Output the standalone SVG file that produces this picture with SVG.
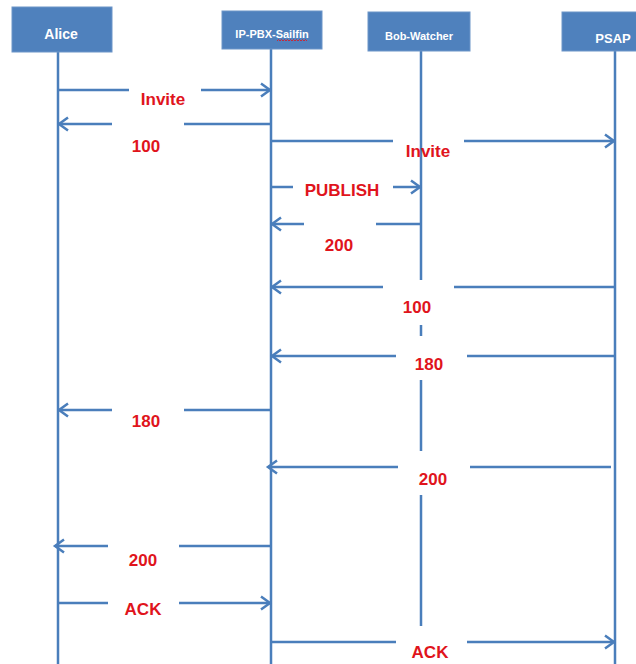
<svg xmlns="http://www.w3.org/2000/svg" width="636" height="664" viewBox="0 0 636 664">
<style>
.box{fill:#4f81bd;stroke:#6d95c8;stroke-width:1}
.hd{font-family:"Liberation Sans",Arial,sans-serif;font-weight:bold;fill:#ffffff;text-anchor:middle}
.life{stroke:#4a7ebb;stroke-width:2.5;fill:none}
.msg{stroke:#4a7ebb;stroke-width:2.5;fill:none}
.arr{marker-end:url(#ah)}
.lbl{font-family:"Liberation Sans",Arial,sans-serif;font-weight:bold;font-size:17px;fill:#e0141c;text-anchor:middle}
</style>
<defs>
<marker id="ah" markerUnits="userSpaceOnUse" markerWidth="20" markerHeight="20" refX="0" refY="0" viewBox="-12 -10 14 20" orient="auto" overflow="visible">
<path d="M-9,-6.5 L0,0 L-9,6.5" fill="none" stroke="#4a7ebb" stroke-width="2.5"/>
</marker>
</defs>
<rect width="636" height="664" fill="#ffffff"/>

<g id="lifelines">
<line class="life" x1="58" y1="52" x2="58" y2="664"/>
<line class="life" x1="271" y1="49" x2="271" y2="664"/>
<line class="life" x1="615" y1="51" x2="615" y2="664"/>
<path class="life" d="M421,51 V280 M421,325 V336 M421,380 V451 M421,495 V626"/>
</g>

<g id="alice">
<rect class="box" x="12" y="7" width="100" height="45"/>
<text class="hd" x="61" y="39" font-size="14">Alice</text>
</g>
<g id="ip-pbx">
<rect class="box" x="222" y="11" width="100" height="38"/>
<text class="hd" x="272" y="38" font-size="11">IP-PBX-Sailfin</text>
<path d="M277,41 l1.5,-1.5 l1.5,1.5 l1.5,-1.5 l1.5,1.5 l1.5,-1.5 l1.5,1.5 l1.5,-1.5 l1.5,1.5 l1.5,-1.5 l1.5,1.5 l1.5,-1.5 l1.5,1.5 l1.5,-1.5 l1.5,1.5 l1.5,-1.5 l1.5,1.5 l1.5,-1.5 l1.5,1.5 l1.5,-1.5 l1.5,1.5" fill="none" stroke="#e0141c" stroke-width="0.8"/>
</g>
<g id="bob-watcher">
<rect class="box" x="368" y="12" width="102" height="39"/>
<text class="hd" x="419" y="40" font-size="11">Bob-Watcher</text>
</g>
<g id="psap">
<rect class="box" x="562" y="12" width="100" height="39"/>
<text class="hd" x="613" y="43" font-size="13">PSAP</text>
</g>

<g id="connectors">
<!-- 1 Invite A->P -->
<path class="msg" d="M58,90 H129"/><path class="msg arr" d="M201,90 H270"/>
<!-- 2 100 P->A -->
<path class="msg" d="M271,124 H184"/><path class="msg arr" d="M112,124 H59"/>
<!-- 3 Invite P->PSAP -->
<path class="msg" d="M271,141 H393"/><path class="msg arr" d="M464,141 H614"/>
<!-- 4 PUBLISH P->B -->
<path class="msg" d="M271,187 H293"/><path class="msg arr" d="M393,187 H420"/>
<!-- 5 200 B->P -->
<path class="msg" d="M421,224 H376"/><path class="msg arr" d="M304,224 H272"/>
<!-- 6 100 PSAP->P -->
<path class="msg" d="M615,287 H454"/><path class="msg arr" d="M383,287 H272"/>
<!-- 7 180 PSAP->P -->
<path class="msg" d="M615,356 H467"/><path class="msg arr" d="M396,356 H272"/>
<!-- 8 180 P->A -->
<path class="msg" d="M271,410 H184"/><path class="msg arr" d="M112,410 H59"/>
<!-- 9 200 PSAP->P -->
<path class="msg" d="M611,467 H470"/><path class="msg arr" d="M398,467 H268"/>
<!-- 10 200 P->A -->
<path class="msg" d="M271,546 H179"/><path class="msg arr" d="M108,546 H55"/>
<!-- 11 ACK A->P -->
<path class="msg" d="M58,603 H108"/><path class="msg arr" d="M179,603 H270"/>
<!-- 12 ACK P->PSAP -->
<path class="msg" d="M271,642 H396"/><path class="msg arr" d="M467,642 H614"/>
</g>

<g id="labels">
<text class="lbl" x="163" y="105">Invite</text>
<text class="lbl" x="146" y="152">100</text>
<text class="lbl" x="428" y="157">Invite</text>
<text class="lbl" x="342" y="196">PUBLISH</text>
<text class="lbl" x="339" y="251">200</text>
<text class="lbl" x="417" y="313">100</text>
<text class="lbl" x="429" y="370">180</text>
<text class="lbl" x="146" y="427">180</text>
<text class="lbl" x="433" y="485">200</text>
<text class="lbl" x="143" y="566">200</text>
<text class="lbl" x="143" y="615">ACK</text>
<text class="lbl" x="430" y="658">ACK</text>
</g>
</svg>
